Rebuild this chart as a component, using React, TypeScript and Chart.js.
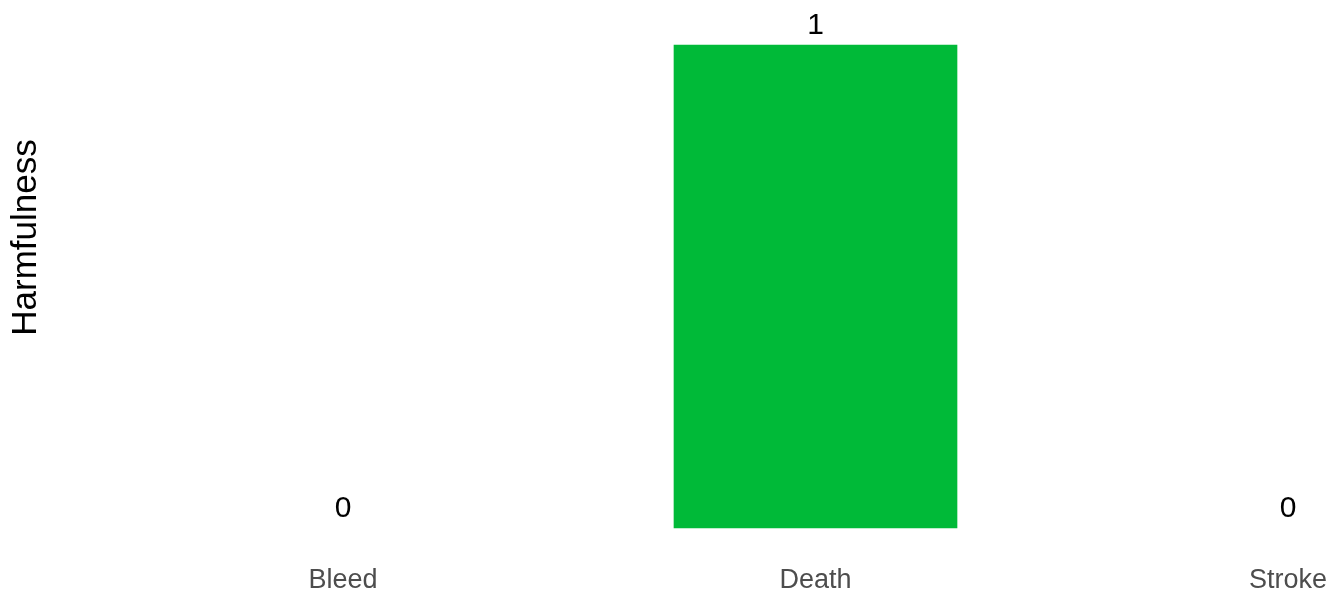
import React, { useEffect, useRef } from "react";
import { Chart, registerables } from "chart.js";

Chart.register(...registerables);

const categories: string[] = ["Bleed", "Death", "Stroke"];
const harmfulness: number[] = [0, 1, 0];
const yTitle = "Harmfulness";
const barColor = "#00BA38";
const FONT = "'Liberation Sans', Arial, Helvetica, sans-serif";

const valueLabelPlugin = {
  id: "valueLabels",
  afterDatasetsDraw(chart: any) {
    const ctx = chart.ctx;
    const meta = chart.getDatasetMeta(0);
    ctx.save();
    ctx.fillStyle = "#000000";
    ctx.font = `30px ${FONT}`;
    ctx.textAlign = "center";
    ctx.textBaseline = "alphabetic";
    meta.data.forEach((el: any, i: number) => {
      ctx.fillText(String(harmfulness[i]), el.x, el.y - 11);
    });
    ctx.restore();
  },
};

const yTitlePlugin = {
  id: "yTitle",
  afterDraw(chart: any) {
    const ctx = chart.ctx;
    ctx.save();
    ctx.translate(26.6, 237.5);
    ctx.rotate(-Math.PI / 2);
    ctx.fillStyle = "#000000";
    ctx.font = `35px ${FONT}`;
    ctx.textAlign = "center";
    ctx.textBaseline = "middle";
    ctx.fillText(yTitle, 0, 0);
    ctx.restore();
  },
};

export default function App() {
  const canvasRef = useRef<HTMLCanvasElement | null>(null);

  useEffect(() => {
    if (!canvasRef.current) return;
    const points = harmfulness.map((v, i) => ({ x: i + 1, y: v }));
    const chart = new Chart(canvasRef.current, {
      type: "bar",
      data: {
        datasets: [
          {
            label: yTitle,
            data: points as any,
            backgroundColor: (c: any) =>
              c.raw && c.raw.y !== 0 ? barColor : "rgba(0,0,0,0)",
            borderWidth: 0,
            barThickness: 283,
          },
        ],
      },
      options: {
        animation: false,
        responsive: false,
        maintainAspectRatio: false,
        layout: { padding: { left: 59.5, top: 21, right: 0, bottom: 0 } },
        plugins: {
          legend: { display: false },
          tooltip: { enabled: false },
        },
        scales: {
          x: {
            type: "linear",
            offset: false,
            min: 0.4,
            max: 3.091,
            grid: { display: false, offset: false, drawTicks: false },
            border: { display: false },
            afterFit(scale: any) {
              scale.height = 41;
              scale.paddingLeft = 0;
              scale.paddingRight = 0;
            },
            ticks: {
              stepSize: 1,
              includeBounds: false,
              autoSkip: false,
              maxRotation: 0,
              padding: 12.5,
              color: "#4D4D4D",
              font: { family: FONT, size: 27 },
              callback: (value: any) => {
                const idx = Math.round(Number(value)) - 1;
                return Number.isInteger(Number(value)) && categories[idx] ? categories[idx] : "";
              },
            },
          },
          y: {
            display: false,
            min: -0.05,
            max: 1.05,
          },
        },
      },
      plugins: [valueLabelPlugin, yTitlePlugin],
    } as any);
    return () => chart.destroy();
  }, []);

  return (
    <div style={{ position: "absolute", left: 0, top: 0, width: 1331, height: 593, background: "#ffffff" }}>
      <canvas ref={canvasRef} width={1331} height={593} style={{ display: "block" }} />
    </div>
  );
}
